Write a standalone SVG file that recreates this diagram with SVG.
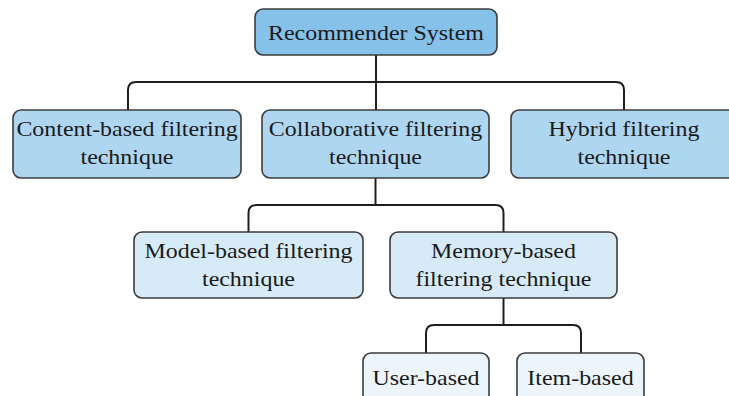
<svg xmlns="http://www.w3.org/2000/svg" width="729" height="396" viewBox="0 0 729 396">
<style>
rect{stroke:#3d3d3d;stroke-width:1.6}
.l1{fill:#85c1e9}.l2{fill:#aed6f1}.l3{fill:#d6eaf8}.l4{fill:#ebf5fb}
text{font-family:"Liberation Serif","Times New Roman",serif;font-size:21px;fill:#1a1a1a;text-anchor:middle;transform-box:fill-box;transform-origin:center;transform:scaleX(1.14)}
.c{fill:none;stroke:#1e1e1e;stroke-width:2}
</style>
<rect x="0" y="0" width="729" height="396" fill="#ffffff" style="stroke:none"/>
<g id="connectors">
<path class="c" d="M376,55 V110"/>
<path class="c" d="M128,110 V90 Q128,82 136,82 H616 Q624,82 624,90 V110"/>
<path class="c" d="M375.5,178 V205"/>
<path class="c" d="M248.5,232 V213 Q248.5,205 256.5,205 H495.5 Q503.5,205 503.5,213 V232"/>
<path class="c" d="M503.5,298 V325"/>
<path class="c" d="M426,353 V333 Q426,325 434,325 H573 Q581,325 581,333 V353"/>
</g>
<g id="root"><rect class="l1" x="255" y="9" width="242" height="46" rx="8"/><text x="376" y="40">Recommender System</text></g>
<g id="content"><rect class="l2" x="13" y="110" width="228" height="68" rx="8"/><text x="127" y="136">Content-based filtering</text><text x="127" y="164">technique</text></g>
<g id="collaborative"><rect class="l2" x="262" y="110" width="227" height="68" rx="8"/><text x="375.5" y="136">Collaborative filtering</text><text x="375.5" y="164">technique</text></g>
<g id="hybrid"><rect class="l2" x="511" y="110" width="226" height="68" rx="8"/><text x="624" y="136">Hybrid filtering</text><text x="624" y="164">technique</text></g>
<g id="model"><rect class="l3" x="134" y="232" width="229" height="66" rx="8"/><text x="248.5" y="258">Model-based filtering</text><text x="248.5" y="286">technique</text></g>
<g id="memory"><rect class="l3" x="390" y="232" width="227" height="66" rx="8"/><text x="503.5" y="258">Memory-based</text><text x="503.5" y="286">filtering technique</text></g>
<g id="user"><rect class="l4" x="363" y="353" width="126" height="60" rx="8"/><text x="426" y="385">User-based</text></g>
<g id="item"><rect class="l4" x="517" y="353" width="127" height="60" rx="8"/><text x="580.5" y="385">Item-based</text></g>
</svg>
